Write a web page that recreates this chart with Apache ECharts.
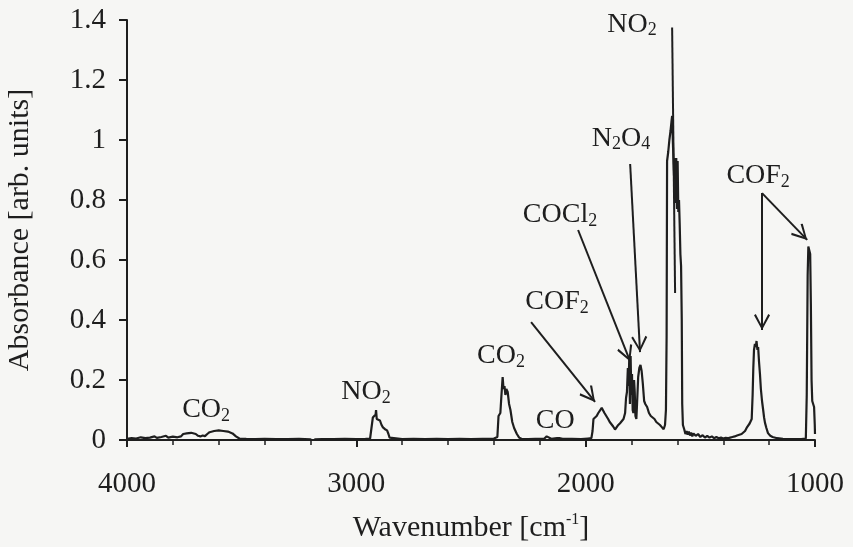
<!DOCTYPE html>
<html>
<head>
<meta charset="utf-8">
<script src="https://cdn.jsdelivr.net/npm/echarts@6/dist/echarts.min.js"></script>
<style>
html,body{margin:0;padding:0;background:#f6f6f4;}
#chart{width:853px;height:547px;}
</style>
</head>
<body>
<div id="chart"></div>
<script>
// spectrum: wavenumber [cm-1] / absorbance
var wavenumber = [
  4000,3980,3960,3940,3920,3900,3880,3870,3850,3830,3820,3800,3780,3765,
  3755,3740,3720,3700,3690,3680,3670,3660,
  3650,3640,3620,3600,3580,3560,3540,3525,3510,
  3480,3440,3400,3350,3300,3250,3200,3190,3180,3150,3100,3050,3000,2960,2940,
  2932,2928,2922,2916,2914,2911,2905,2897,2890,2884,2875,2866,2860,2855,2850,
  2800,2750,2700,2650,2600,2550,2500,2450,2400,
  2385,2380,2372,2368,2362,2358,2354,2350,2346,2340,2334,2328,2320,2312,2300,2290,2280,
  2250,2220,2200,2180,2170,2165,2150,2125,2120,2115,2100,2060,2020,1990,1975,
  1970,1966,1960,1952,1945,1938,1930,1925,1918,1910,1902,1895,1888,1880,1872,1866,1860,1850,1842,1835,
  1828,1824,1820,1816,1813,1810,1807,1804,1801,1798,1795,1792,1789,1786,1783,1779,1776,1771,1766,1761,1756,1751,1745,1740,
  1732,1724,1716,1708,1700,1692,1684,1676,1668,1660,1654,
  1650,1647,1645,1640,1635,1630,1626,1623,1620,1617,1614,1611,1608,1605,1602,1599,1596,1593,1590,1587,1584,1581,1579,1576,
  1570,1565,1560,1555,1550,1545,1540,1535,1530,1520,1510,1500,1490,1480,1470,1460,1450,1440,1430,1420,1410,1400,1390,1380,1370,1360,1350,
  1340,1320,1305,1296,1285,1276,1272,1269,1266,1262,1258,1255,1251,1248,1244,1240,1236,1231,1226,1222,1218,1212,1205,1195,1185,1165,1140,1100,1060,
  1040,1036,1032,1029,1025,1021,1018,1015,1012,1008,1004,1001,1000
];
var absorbance = [
  0.004,0.006,0.005,0.009,0.006,0.008,0.012,0.007,0.010,0.014,0.008,0.011,0.009,0.012,
  0.020,0.022,0.024,0.020,0.014,0.012,0.015,0.013,
  0.020,0.026,0.030,0.032,0.030,0.028,0.022,0.012,0.005,
  0.004,0.003,0.004,0.003,0.003,0.004,0.002,-0.004,0.002,0.003,0.003,0.004,0.003,0.004,0.005,
  0.006,0.075,0.080,0.085,0.100,0.070,0.072,0.065,0.050,0.042,0.036,0.032,0.020,0.008,0.004,
  0.003,0.004,0.003,0.004,0.003,0.004,0.003,0.004,0.005,
  0.010,0.080,0.090,0.140,0.210,0.170,0.180,0.150,0.170,0.160,0.120,0.100,0.060,0.040,0.020,0.008,0.004,
  0.003,0.004,0.004,0.005,0.012,0.006,0.004,0.006,0.012,0.006,0.004,0.004,0.003,0.005,0.006,
  0.030,0.070,0.075,0.080,0.090,0.095,0.107,0.100,0.090,0.085,0.070,0.060,0.055,0.045,0.035,0.040,0.048,0.056,0.060,0.070,
  0.090,0.140,0.160,0.240,0.180,0.270,0.120,0.280,0.150,0.220,0.100,0.090,0.200,0.160,0.080,0.070,0.120,0.210,0.240,0.250,0.230,0.190,0.130,0.120,
  0.110,0.090,0.080,0.075,0.070,0.060,0.055,0.050,0.043,0.036,0.050,
  0.100,0.350,0.930,0.960,1.000,1.030,1.060,1.080,1.000,0.930,0.870,0.940,0.790,0.940,0.770,0.930,0.760,0.800,0.720,0.620,0.580,0.400,0.120,0.050,
  0.035,0.020,0.030,0.018,0.028,0.015,0.025,0.012,0.022,0.014,0.020,0.010,0.016,0.008,0.014,0.008,0.012,0.006,0.010,0.006,0.008,0.005,0.007,0.006,0.008,0.010,0.012,
  0.015,0.020,0.030,0.043,0.055,0.070,0.150,0.240,0.300,0.320,0.310,0.330,0.300,0.310,0.260,0.220,0.170,0.130,0.100,0.075,0.057,0.040,0.023,0.014,0.010,0.006,0.004,0.003,0.003,
  0.005,0.150,0.550,0.645,0.640,0.620,0.450,0.200,0.130,0.120,0.110,0.050,0.020
];

var xTicks = [1000, 4000, 1000];   // min, max, step
var yTicks = [0, 1.4, 0.2];

// band labels: text, wavenumber, absorbance (centre of label)
var labelText = ['NO{s|2}', 'N{s|2}O{s|4}', 'COCl{s|2}', 'COF{s|2}', 'CO{s|2}', 'CO', 'NO{s|2}', 'CO{s|2}', 'COF{s|2}'];
var labelW = [1798, 1846, 2112, 2125, 2369, 2133, 2958, 3655, 1248];
var labelA = [1.385, 1.005, 0.75, 0.46, 0.28, 0.063, 0.16, 0.10, 0.88];

// arrows: from [w, a] to [w, a], head or not
var arrowFrom = [[1623, 1.375], [1806, 0.92], [2033, 0.70], [2238, 0.393], [1231, 0.823], [1231, 0.823]];
var arrowTo = [[1610, 0.49], [1763, 0.293], [1806, 0.262], [1959, 0.127], [1231, 0.367], [1034, 0.667]];
var arrowHead = [false, true, true, true, true, true];

var ink = '#1e1e1e';
var serif = "'Liberation Serif', 'Times New Roman', serif";
var chevron = 'path://M5,0 L10,9 L8.9,9.8 L5,2.4 L1.1,9.8 L0,9 Z';

var spectrum = [];
for (var i = 0; i < wavenumber.length; i++) {
  spectrum.push([wavenumber[i], absorbance[i]]);
}
var labels = [];
for (var j = 0; j < labelText.length; j++) {
  labels.push({value: [labelW[j], labelA[j]], txt: labelText[j]});
}
var arrows = [];
for (var k = 0; k < arrowFrom.length; k++) {
  arrows.push([
    {coord: arrowFrom[k], symbol: 'none'},
    {coord: arrowTo[k], symbol: arrowHead[k] ? chevron : 'none', symbolSize: [16, 16], symbolOffset: [0, 8]}
  ]);
}

var myChart = echarts.init(document.getElementById('chart'));
myChart.setOption({
  backgroundColor: '#f6f6f4',
  animation: false,
  textStyle: {fontFamily: serif, color: ink},
  grid: {left: 127, right: 38, top: 20, bottom: 107, containLabel: false, outerBoundsMode: 'none'},
  xAxis: {
    type: 'value',
    inverse: true,
    min: xTicks[0],
    max: xTicks[1],
    interval: xTicks[2],
    name: 'Wavenumber [cm{sup|-1}]',
    nameLocation: 'middle',
    nameGap: 72,
    nameTextStyle: {
      fontFamily: serif, fontSize: 30, color: ink, lineHeight: 32,
      rich: {sup: {fontFamily: serif, fontSize: 16, color: ink, verticalAlign: 'top', lineHeight: 16}}
    },
    axisLine: {show: true, lineStyle: {color: ink, width: 2}},
    axisTick: {show: true, inside: false, length: 7, lineStyle: {color: ink, width: 2}},
    minorTick: {show: true, splitNumber: 5, length: 5, lineStyle: {color: ink, width: 1.5}},
    splitLine: {show: false},
    axisLabel: {
      fontFamily: serif, fontSize: 29, color: ink, margin: 30,
      formatter: function (v) { return String(v); }
    }
  },
  yAxis: {
    type: 'value',
    min: yTicks[0],
    max: yTicks[1],
    interval: yTicks[2],
    name: 'Absorbance [arb. units]',
    nameLocation: 'middle',
    nameGap: 92,
    nameTextStyle: {fontFamily: serif, fontSize: 30, color: ink},
    axisLine: {show: true, lineStyle: {color: ink, width: 2}},
    axisTick: {show: true, inside: false, length: 8, lineStyle: {color: ink, width: 2}},
    splitLine: {show: false},
    axisLabel: {fontFamily: serif, fontSize: 29, color: ink, margin: 21}
  },
  series: [
    {
      type: 'line',
      data: spectrum,
      showSymbol: false,
      lineStyle: {color: ink, width: 2.2},
      silent: true,
      markLine: {
        silent: true,
        animation: false,
        label: {show: false},
        lineStyle: {color: ink, width: 2, type: 'solid'},
        itemStyle: {color: ink},
        data: arrows
      }
    },
    {
      type: 'scatter',
      data: labels,
      symbolSize: 0,
      silent: true,
      itemStyle: {color: ink, opacity: 1},
      label: {
        show: true,
        position: 'inside',
        formatter: function (p) { return p.data.txt; },
        fontFamily: serif,
        fontSize: 28,
        color: ink,
        textBorderWidth: 0,
        lineHeight: 30,
        rich: {s: {fontFamily: serif, fontSize: 18, color: ink, textBorderWidth: 0, verticalAlign: 'bottom', lineHeight: 14}}
      }
    }
  ]
});
</script>
</body>
</html>
